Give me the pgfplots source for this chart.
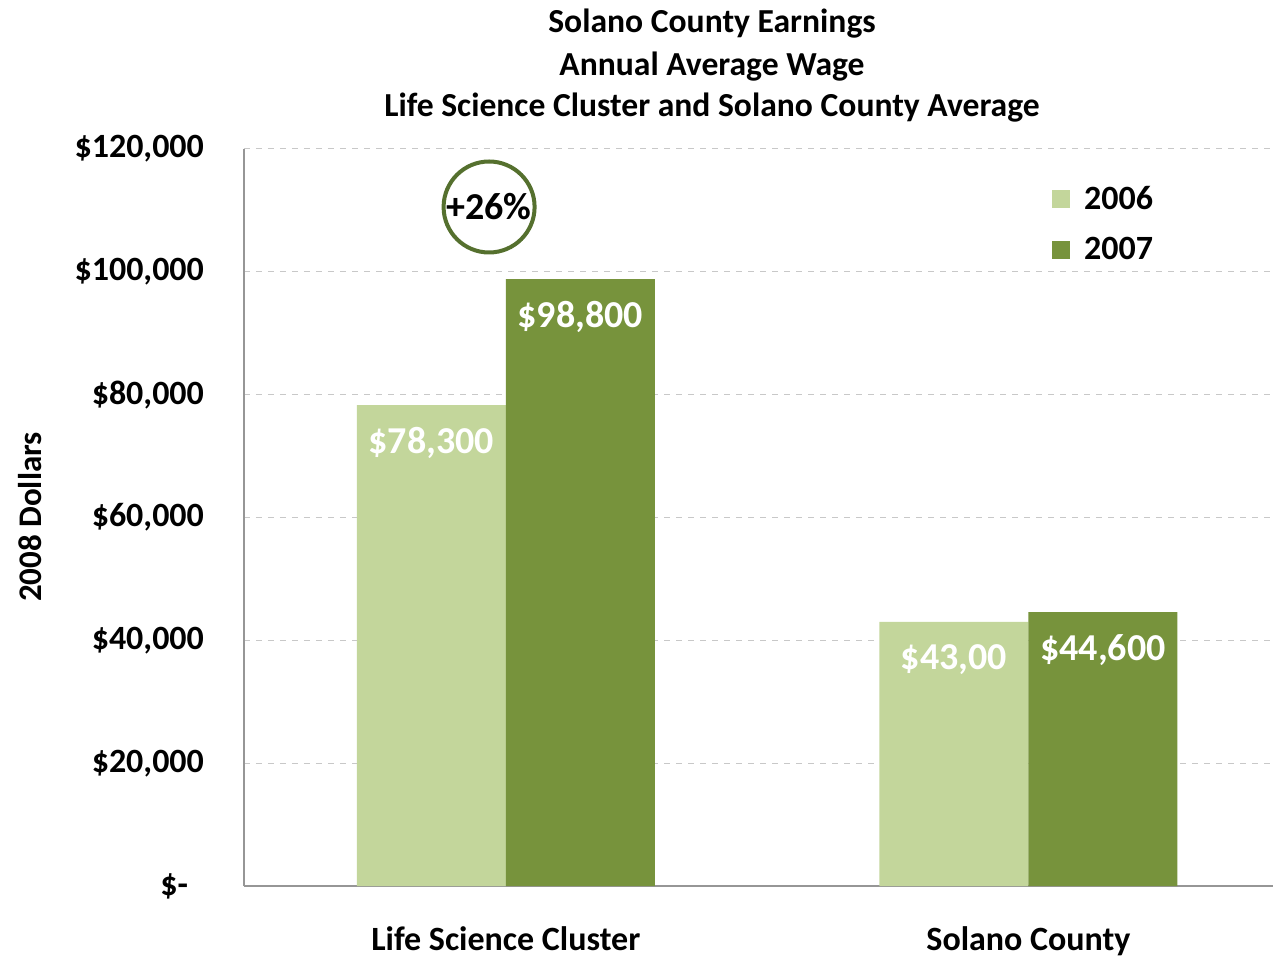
\documentclass[border=0pt]{standalone}
\usepackage{fontspec}
\setmainfont{Carlito}
\usepackage{pgfplots}
\pgfplotsset{compat=1.18}
\definecolor{lightg}{HTML}{C3D69B}
\definecolor{darkg}{HTML}{77933C}
\definecolor{circg}{HTML}{55702E}
\definecolor{axgray}{HTML}{969696}
\definecolor{gridgray}{HTML}{C8C8C8}
\begin{document}
\begin{tikzpicture}
\begin{axis}[
  scale only axis, width=514.5pt, height=368.5pt,
  xmin=-0.501, xmax=1.468, ymin=0, ymax=120000,
  ybar=0pt, bar width=0.285,
  xtick={0,1}, xticklabels={Life Science Cluster, Solano County},
  ytick={0,20000,40000,60000,80000,100000,120000},
  yticklabels={{\$-\hspace*{8pt}},{\$20,000},{\$40,000},{\$60,000},{\$80,000},{\$100,000},{\$120,000}},
  scaled y ticks=false,
  ymajorgrids, grid style={dashed, gridgray, line width=0.5pt},
  axis x line*=bottom, axis y line*=left,
  axis line style={axgray, line width=1pt, -},
  every outer x axis line/.append style={-},
  every outer y axis line/.append style={-},
  major tick length=0pt,
  tick label style={font=\fontsize{17}{20}\selectfont\bfseries},
  yticklabel style={xshift=-16.5pt},
  xticklabel style={yshift=-20pt, inner sep=0pt},
  point meta=explicit symbolic,
  nodes near coords,
  every node near coord/.append style={anchor=center, yshift=-19pt, text=white, font=\fontsize{19}{22}\selectfont\bfseries},
  legend style={draw=none, fill=none, at={(0.785,0.956)}, anchor=north west, inner sep=0pt,
    font=\fontsize{17}{20}\selectfont\bfseries, row sep=8.5pt,
    /tikz/every odd column/.append style={column sep=5pt}},
  legend image code/.code={\fill[#1] (0pt,-4.5pt) rectangle (9pt,4.5pt);},
  clip=false,
]
\addplot[fill=lightg, draw=none, bar shift=-0.1425] table[x=x, y=y, meta=lab] {
x y lab
0 78300 {\$78,300}
1 43000 {\$43,00}
};
\addlegendentry{2006}
\addplot[fill=darkg, draw=none, bar shift=0.1425] table[x=x, y=y, meta=lab] {
x y lab
0 98800 {\$98,800}
1 44600 {\$44,600}
};
\addlegendentry{2007}
\node[draw=circg, line width=2pt, circle, minimum size=45.5pt, inner sep=0pt,
  font=\fontsize{19}{22}\selectfont\bfseries, fill=white] at (axis cs:-0.032,110556) {+26\%};
\end{axis}
\node[font=\fontsize{16.8}{20}\selectfont\bfseries] at (234pt,431pt) {Solano County Earnings};
\node[font=\fontsize{16.8}{20}\selectfont\bfseries] at (234pt,409.5pt) {Annual Average Wage};
\node[font=\fontsize{16.8}{20}\selectfont\bfseries] at (234pt,389pt) {Life Science Cluster and Solano County Average};
\node[rotate=90, font=\fontsize{16.5}{20}\selectfont\bfseries] at (-107pt,184.5pt) {2008 Dollars};
\pgfresetboundingbox
\path[use as bounding box] (-122pt,-36pt) rectangle (514.5pt,443pt);
\end{tikzpicture}
\end{document}
